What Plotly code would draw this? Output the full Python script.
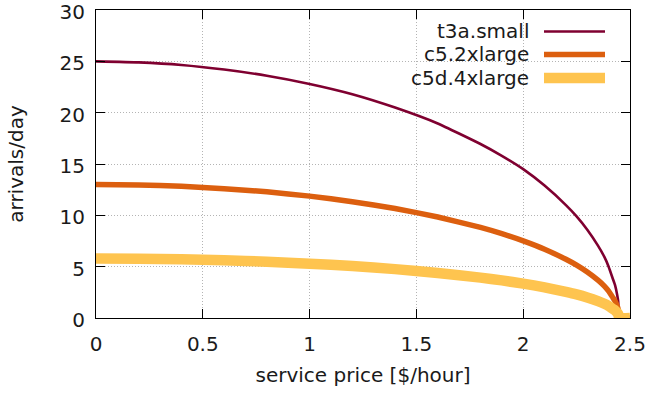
import plotly.graph_objects as go

# service price in $/hour
price = [0, 0.2, 0.4, 0.6, 0.8, 1.0, 1.2, 1.4, 1.6, 1.8, 1.9, 2.0, 2.1, 2.2,
         2.25, 2.3, 2.35, 2.38, 2.4, 2.42, 2.43, 2.44, 2.445, 2.45, 2.5]

# arrivals/day for each instance type
t3a_small = [25.0, 24.9, 24.65, 24.2, 23.6, 22.8, 21.8, 20.5, 18.95, 16.95,
             15.8, 14.5, 12.9, 11.0, 9.9, 8.6, 7.05, 5.95, 5.0, 3.8, 3.2,
             2.25, 1.6, 0, 0]
c5_2xlarge = [13.0, 12.96, 12.83, 12.6, 12.29, 11.87, 11.33, 10.67, 9.84, 8.82,
              8.21, 7.51, 6.7, 5.72, 5.15, 4.48, 3.68, 3.1, 2.61, 1.98, 1.66,
              1.18, 0.83, 0, 0]
c5d_4xlarge = [5.8, 5.78, 5.72, 5.62, 5.48, 5.29, 5.06, 4.76, 4.39, 3.93,
               3.66, 3.35, 2.99, 2.55, 2.3, 2.0, 1.64, 1.38, 1.17, 0.88, 0.74,
               0.52, 0.37, 0, 0]

names = ["t3a.small", "c5.2xlarge", "c5d.4xlarge"]
colors = ["#7f0030", "#dc5f0f", "#fec44f"]
widths = [2.6, 5.5, 10.5]
series = [t3a_small, c5_2xlarge, c5d_4xlarge]

W, H = 649, 397
L, R, T, B = 96, 19, 10, 79
FONT = "DejaVu Sans"
FS = 20
TXT = "#1a1a1a"

fig = go.Figure()
for name, ys, col, w in zip(names, series, colors, widths):
    fig.add_trace(go.Scatter(x=price, y=ys, mode="lines", name=name,
                             line=dict(color=col, width=w, shape="spline",
                                       smoothing=0.4),
                             showlegend=False))

# key: right-aligned labels with line samples to their right
pw, ph = W - L - R, H - T - B
def px_x(p):
    return (p - L) / pw
def px_y(p):
    return 1 - (p - T) / ph

shapes = [dict(type="rect", xref="paper", yref="paper",
               x0=px_x(388), x1=px_x(620), y0=px_y(92), y1=1,
               fillcolor="white", line=dict(width=0), layer="between")]
annotations = []
key_y = [31.5, 54.5, 78]
for name, col, w, yy in zip(names, colors, widths, key_y):
    annotations.append(dict(text=name, xref="paper", yref="paper",
                            x=px_x(531), y=px_y(yy), xanchor="right",
                            yanchor="middle", showarrow=False,
                            font=dict(family=FONT, size=FS, color=TXT)))
    shapes.append(dict(type="line", xref="paper", yref="paper",
                       x0=px_x(544), x1=px_x(605), y0=px_y(yy), y1=px_y(yy),
                       line=dict(color=col, width=w), layer="above"))

axis_common = dict(
    showline=True, linecolor="black", linewidth=1, mirror="allticks",
    ticks="inside", ticklen=9, tickcolor="black", tickwidth=1,
    showgrid=True, gridcolor="#b4b4b4", griddash="1px,2px", gridwidth=1,
    zeroline=False, automargin=False, ticklabeloverflow="allow",
    tickfont=dict(family=FONT, size=FS, color=TXT),
)

fig.update_layout(
    width=W, height=H,
    margin=dict(l=L, r=R, t=T, b=B),
    paper_bgcolor="white", plot_bgcolor="white",
    font=dict(family=FONT, size=FS, color=TXT),
    xaxis=dict(range=[0, 2.5], tickvals=[0, 0.5, 1, 1.5, 2, 2.5],
               ticktext=["0", "0.5", "1", "1.5", "2", "2.5"],
               ticklabelstandoff=8,
               title=dict(text="service price [$/hour]", standoff=12,
                          font=dict(family=FONT, size=FS)),
               **axis_common),
    yaxis=dict(range=[0, 30], tickvals=[0, 5, 10, 15, 20, 25, 30],
               ticklabelstandoff=6, ticklabelshift=2,
               title=dict(text="arrivals/day", standoff=30,
                          font=dict(family=FONT, size=FS)),
               **axis_common),
    shapes=shapes,
    annotations=annotations,
)

fig.write_html("out.html")
